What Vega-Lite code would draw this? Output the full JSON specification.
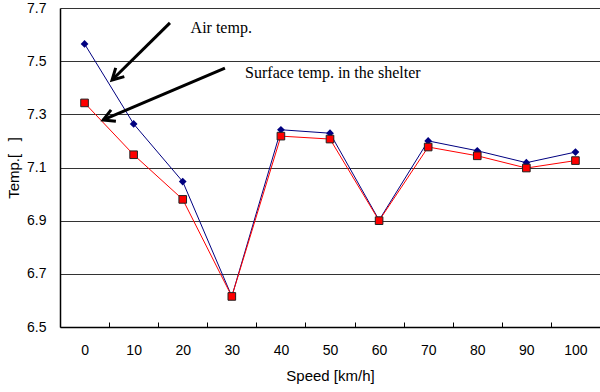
{
  "$schema": "https://vega.github.io/schema/vega-lite/v6.json",
  "width": 540,
  "height": 319,
  "autosize": {"type": "none"},
  "padding": {"left": 60, "top": 8, "right": 0, "bottom": 65},
  "background": "white",
  "config": {
    "view": {"stroke": null},
    "font": "Liberation Sans"
  },
  "datasets": {
    "temps": [
      {"speed": 0, "series": "Air temp.", "temp": 7.565},
      {"speed": 10, "series": "Air temp.", "temp": 7.264},
      {"speed": 20, "series": "Air temp.", "temp": 7.047},
      {"speed": 30, "series": "Air temp.", "temp": 6.615},
      {"speed": 40, "series": "Air temp.", "temp": 7.242},
      {"speed": 50, "series": "Air temp.", "temp": 7.229},
      {"speed": 60, "series": "Air temp.", "temp": 6.902},
      {"speed": 70, "series": "Air temp.", "temp": 7.2},
      {"speed": 80, "series": "Air temp.", "temp": 7.163},
      {"speed": 90, "series": "Air temp.", "temp": 7.118},
      {"speed": 100, "series": "Air temp.", "temp": 7.158},
      {"speed": 0, "series": "Surface temp. in the shelter", "temp": 7.343},
      {"speed": 10, "series": "Surface temp. in the shelter", "temp": 7.148},
      {"speed": 20, "series": "Surface temp. in the shelter", "temp": 6.98},
      {"speed": 30, "series": "Surface temp. in the shelter", "temp": 6.615},
      {"speed": 40, "series": "Surface temp. in the shelter", "temp": 7.218},
      {"speed": 50, "series": "Surface temp. in the shelter", "temp": 7.207},
      {"speed": 60, "series": "Surface temp. in the shelter", "temp": 6.9},
      {"speed": 70, "series": "Surface temp. in the shelter", "temp": 7.177},
      {"speed": 80, "series": "Surface temp. in the shelter", "temp": 7.144},
      {"speed": 90, "series": "Surface temp. in the shelter", "temp": 7.098},
      {"speed": 100, "series": "Surface temp. in the shelter", "temp": 7.126}
    ],
    "arrows": [
      {"name": "air", "x": 17.4, "y": 7.644, "x2": 5.6, "y2": 7.429},
      {"name": "surface", "x": 28.6, "y": 7.474, "x2": 3.8, "y2": 7.279}
    ],
    "notes": [
      {"x": 21.6, "y": 7.623, "text": "Air temp."},
      {"x": 32.7, "y": 7.457, "text": "Surface temp. in the shelter"}
    ]
  },
  "layer": [
    {
      "data": {"name": "temps"},
      "mark": {"type": "line", "strokeWidth": 1},
      "encoding": {
        "x": {
          "field": "speed",
          "type": "quantitative",
          "scale": {"domain": [-5, 105], "nice": false, "zero": false},
          "axis": {
            "values": [0, 10, 20, 30, 40, 50, 60, 70, 80, 90, 100],
            "grid": false,
            "title": "Speed [km/h]",
            "titleFont": "Liberation Sans",
            "titleFontSize": 15,
            "titleFontWeight": "normal",
            "titleColor": "black",
            "titlePadding": 11,
            "labelFont": "Liberation Sans",
            "labelFontSize": 14,
            "labelColor": "black",
            "labelPadding": 21,
            "labelFlush": false,
            "tickOffset": 24.545,
            "labelOffset": -24.545,
            "tickSize": -5,
            "tickColor": "black",
            "domainColor": "black",
            "domainWidth": 1.5
          }
        },
        "y": {
          "field": "temp",
          "type": "quantitative",
          "scale": {"domain": [6.5, 7.7], "nice": false, "zero": false},
          "axis": {
            "values": [6.5, 6.7, 6.9, 7.1, 7.3, 7.5, 7.7],
            "format": ".1f",
            "grid": true,
            "gridColor": "#333333",
            "gridWidth": 1,
            "ticks": false,
            "domainColor": "black",
            "domainWidth": 1.5,
            "labelFont": "Liberation Sans",
            "labelFontSize": 14,
            "labelColor": "black",
            "labelPadding": 14,
            "title": "Temp.[\u00a0\u00a0\u00a0]",
            "titleFont": "Liberation Sans",
            "titleFontSize": 15,
            "titleFontWeight": "normal",
            "titleColor": "black",
            "titlePadding": 5
          }
        },
        "color": {
          "field": "series",
          "type": "nominal",
          "scale": {
            "domain": ["Air temp.", "Surface temp. in the shelter"],
            "range": ["#000080", "#ff0000"]
          },
          "legend": null
        }
      }
    },
    {
      "data": {"name": "temps"},
      "transform": [{"filter": "datum.series === 'Air temp.'"}],
      "mark": {"type": "point", "shape": "diamond", "filled": true, "color": "#000080", "size": 60, "opacity": 1},
      "encoding": {
        "x": {"field": "speed", "type": "quantitative"},
        "y": {"field": "temp", "type": "quantitative"}
      }
    },
    {
      "data": {"name": "temps"},
      "transform": [{"filter": "datum.series !== 'Air temp.'"}],
      "mark": {"type": "point", "shape": "square", "filled": true, "fill": "#ff0000", "stroke": "#222222", "strokeWidth": 1, "size": 58, "opacity": 1},
      "encoding": {
        "x": {"field": "speed", "type": "quantitative"},
        "y": {"field": "temp", "type": "quantitative"}
      }
    },
    {
      "data": {"name": "arrows"},
      "mark": {"type": "rule", "color": "black", "strokeWidth": 3},
      "encoding": {
        "x": {"field": "x", "type": "quantitative"},
        "y": {"field": "y", "type": "quantitative"},
        "x2": {"field": "x2"},
        "y2": {"field": "y2"}
      }
    },
    {
      "data": {"name": "arrows"},
      "transform": [{"filter": "datum.name === 'air'"}],
      "mark": {"type": "point", "shape": "M-0.55,1 L0,0 L0.55,1", "filled": false, "stroke": "black", "strokeWidth": 3, "size": 500, "angle": 225.5, "opacity": 1},
      "encoding": {
        "x": {"field": "x2", "type": "quantitative"},
        "y": {"field": "y2", "type": "quantitative"}
      }
    },
    {
      "data": {"name": "arrows"},
      "transform": [{"filter": "datum.name === 'surface'"}],
      "mark": {"type": "point", "shape": "M-0.55,1 L0,0 L0.55,1", "filled": false, "stroke": "black", "strokeWidth": 3, "size": 500, "angle": 246.9, "opacity": 1},
      "encoding": {
        "x": {"field": "x2", "type": "quantitative"},
        "y": {"field": "y2", "type": "quantitative"}
      }
    },
    {
      "data": {"name": "notes"},
      "mark": {"type": "text", "font": "Liberation Serif", "fontSize": 16, "align": "left", "baseline": "middle", "color": "black"},
      "encoding": {
        "x": {"field": "x", "type": "quantitative"},
        "y": {"field": "y", "type": "quantitative"},
        "text": {"field": "text"}
      }
    }
  ]
}
